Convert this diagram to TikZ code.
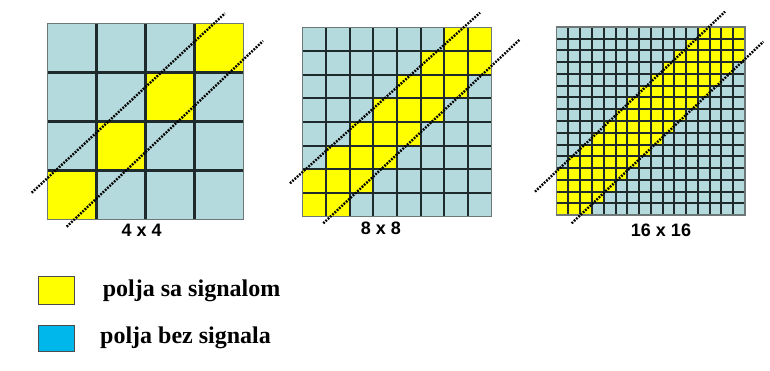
\documentclass[tikz,border=0pt]{standalone}
\usepackage{fontspec}
\setmainfont{Liberation Serif}
\newfontfamily\arialfont{Liberation Sans}
\definecolor{cellblue}{RGB}{180,218,222}
\definecolor{sigyellow}{RGB}{255,255,0}
\definecolor{legblue}{RGB}{0,183,235}
\definecolor{gridcol}{RGB}{30,42,44}
\definecolor{bordercol}{RGB}{110,120,120}
\tikzset{
  gridline/.style={draw=gridcol,line width=2.1pt},
  gridborder/.style={draw=bordercol,line width=1.4pt},
  diagline/.style={draw=black,line width=2.4pt,dash pattern=on 1.8pt off 1.3pt},
  sizelabel/.style={font=\arialfont\bfseries\fontsize{18}{20}\selectfont,inner sep=0pt},
  legbox/.style={draw=black!70,line width=1pt},
  legtext/.style={font=\bfseries\fontsize{24}{26}\selectfont,inner sep=0pt,anchor=base west}
}
\begin{document}
\begin{tikzpicture}[x=1pt,y=-1pt]
\useasboundingbox (0,0) rectangle (770,371);
\fill[white] (0,0) rectangle (770,371);
% ---- grid 4x4
\begin{scope}[shift={(47.5,219.5)},x=49pt,y=49pt]
  \fill[cellblue] (0,0) rectangle (4,4);
  \foreach \j/\lo/\hi in {0/0/0,1/1/1,2/2/2,3/3/3}
    \fill[sigyellow] (\lo,\j) rectangle (\hi+1,\j+1);
  \foreach \k in {1,2,3}{
    \draw[gridline] (\k,0) -- (\k,4);
    \draw[gridline] (0,\k) -- (4,\k);}
  \draw[gridborder] (0,0) rectangle (4,4);
\end{scope}
% ---- grid 8x8
\begin{scope}[shift={(302.3,216.7)},x=23.675pt,y=23.675pt]
  \fill[cellblue] (0,0) rectangle (8,8);
  \foreach \j/\lo/\hi in {0/0/1,1/0/2,2/1/3,3/2/4,4/3/5,5/4/6,6/5/7,7/6/7}
    \fill[sigyellow] (\lo,\j) rectangle (\hi+1,\j+1);
  \foreach \k in {1,...,7}{
    \draw[gridline] (\k,0) -- (\k,8);
    \draw[gridline] (0,\k) -- (8,\k);}
  \draw[gridborder] (0,0) rectangle (8,8);
\end{scope}
% ---- grid 16x16
\begin{scope}[shift={(556.7,215.2)},x=11.77pt,y=11.77pt]
  \fill[cellblue] (0,0) rectangle (16,16);
  \foreach \j/\lo/\hi in {0/0/2,1/0/3,2/0/4,3/0/5,4/1/6,5/2/7,6/3/8,7/4/9,8/5/10,9/6/11,10/7/12,11/8/13,12/9/14,13/10/15,14/11/15,15/12/15}
    \fill[sigyellow] (\lo,\j) rectangle (\hi+1,\j+1);
  \foreach \k in {1,...,15}{
    \draw[gridline,line width=2pt] (\k,0) -- (\k,16);
    \draw[gridline,line width=2pt] (0,\k) -- (16,\k);}
  \draw[gridborder] (0,0) rectangle (16,16);
\end{scope}
% ---- diagonal boundary lines
\coordinate (a1) at (31.7,192.7);  \coordinate (a2) at (225,13.3);
\coordinate (b1) at (66.7,226.7);  \coordinate (b2) at (263,41);
\coordinate (c1) at (290,183.3);   \coordinate (c2) at (480,12.7);
\coordinate (d1) at (323.3,223.3); \coordinate (d2) at (520,39.3);
\coordinate (e1) at (535,191.7);   \coordinate (e2) at (725,11.7);
\coordinate (f1) at (571.7,223.3); \coordinate (f2) at (763.3,41.7);
\draw[diagline] (a1) -- (a2);
\draw[diagline] (b1) -- (b2);
\draw[diagline] (c1) -- (c2);
\draw[diagline] (d1) -- (d2);
\draw[diagline] (e1) -- (e2);
\draw[diagline] (f1) -- (f2);
% ---- size labels
\node[sizelabel] (l4) at (141.7,230.3) {4 x 4};
\node[sizelabel] (l8) at (381,228.5) {8 x 8};
\node[sizelabel] (l16) at (661,230) {16 x 16};
% ---- legend
\filldraw[legbox,fill=sigyellow] (38.3,276.7) rectangle (74,304);
\filldraw[legbox,fill=legblue] (38.3,325) rectangle (74,351.7);
\node[legtext] (t1) at (102.7,296) {polja sa signalom};
\node[legtext] (t2) at (100,343.3) {polja bez signala};
\end{tikzpicture}
\end{document}
